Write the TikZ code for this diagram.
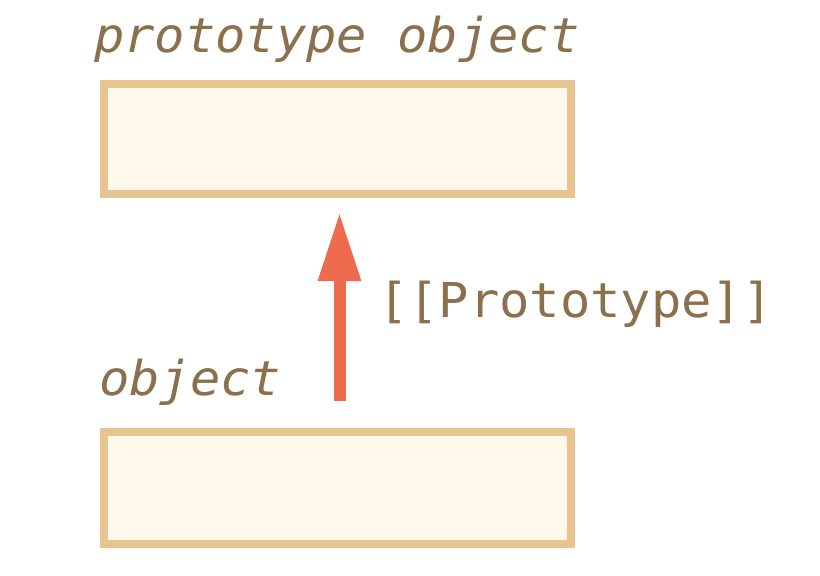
\documentclass[tikz,border=0pt]{standalone}
\usepackage{fontspec}
\newfontfamily\codefont[FakeStretch=1.05]{DejaVu Sans Mono}
\usetikzlibrary{arrows.meta}
\definecolor{boxfill}{HTML}{FFF8EB}
\definecolor{boxline}{HTML}{E8C490}
\definecolor{labeltext}{HTML}{8A704D}
\definecolor{linkarrow}{HTML}{EE6B4D}
\tikzset{
  objbox/.style={draw=boxline, fill=boxfill, line width=8pt},
  caption/.style={anchor=base west, inner sep=0pt, text=labeltext,
    font=\fontsize{48}{56}\selectfont\codefont\itshape},
  linklabel/.style={anchor=base west, inner sep=0pt, text=labeltext,
    font=\fontsize{48}{56}\selectfont\codefont},
  protolink/.style={draw=linkarrow, line width=12pt,
    -{Triangle[length=69pt, width=40pt]}}
}
\begin{document}
\begin{tikzpicture}[x=1pt, y=-1pt]
  \useasboundingbox (0,0) rectangle (820,576);
  % the two objects
  \draw[objbox] (104,84) rectangle (571,194);
  \node (proto) at (337.5,139) {};
  \draw[objbox] (104,432) rectangle (571,544);
  \node (obj) at (337.5,488) {};
  % their captions
  \node[caption] (protocap) at (94,52) {prototype object};
  \node[caption] (objcap) at (99,395) {object};
  % the [[Prototype]] link
  \coordinate (linkfrom) at (339.5,401);
  \coordinate (linkto) at (339.5,212);
  \draw[protolink] (linkfrom) -- (linkto);
  \node[linklabel] (linklab) at (378,317) {[[Prototype]]};
\end{tikzpicture}
\end{document}
